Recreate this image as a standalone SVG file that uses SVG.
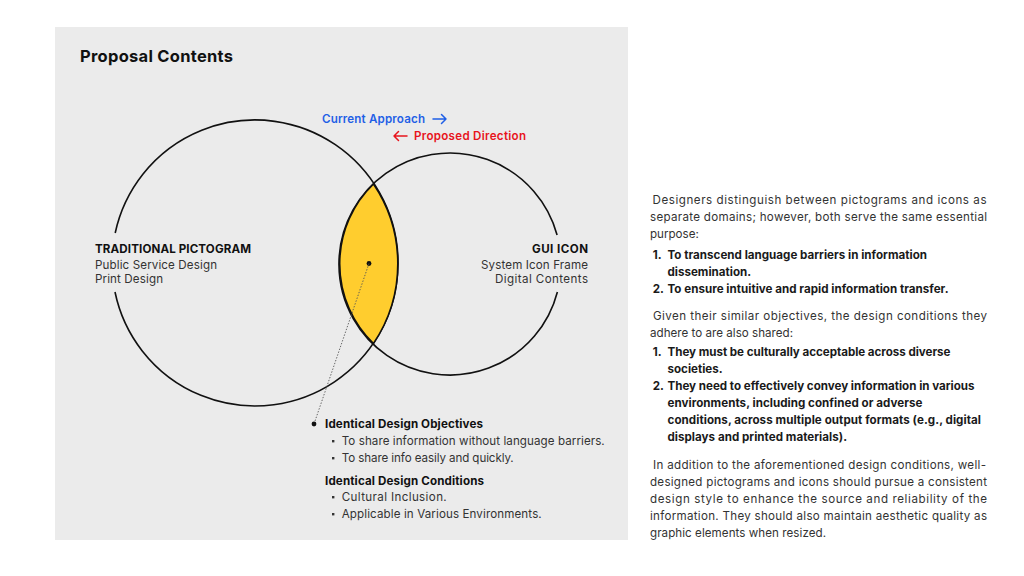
<svg xmlns="http://www.w3.org/2000/svg" width="1024" height="576" viewBox="0 0 1024 576">
<style>
  text { font-family: Inter, "Noto Sans", "Liberation Sans", sans-serif; font-size: 11.6px; }
  .title { font-size: 16.5px; font-weight: 700; fill: #111; }
  .head { font-weight: 700; fill: #111; }
  .reg { fill: #333; }
  .bold { font-weight: 700; fill: #1a1a1a; }
  .ring { fill: none; stroke: #111; stroke-width: 1.6; }
  .blue { fill: #1f5fe6; font-weight: 600; }
  .red { fill: #e8141c; font-weight: 600; }
  .arr { fill: none; stroke-width: 1.5; stroke-linecap: round; stroke-linejoin: round; }
  .dotline { fill: none; stroke: #555; stroke-width: 0.9; stroke-dasharray: 1.4 1.6; }
</style>
<rect x="0" y="0" width="1024" height="576" fill="#ffffff"/>
<rect x="55" y="27" width="573" height="513" fill="#ebebeb"/>
<text class="title" x="80" y="62" textLength="153" lengthAdjust="spacing">Proposal Contents</text>

<g id="legend">
  <text class="blue" x="322" y="123" textLength="103" lengthAdjust="spacing">Current Approach</text>
  <path class="arr" stroke="#1f5fe6" d="M433,119 H446 M441.5,114.5 L446,119 L441.5,123.5"/>
  <text class="red" x="414" y="140" textLength="112" lengthAdjust="spacing">Proposed Direction</text>
  <path class="arr" stroke="#e8141c" d="M394,136 H407 M398.5,131.5 L394,136 L398.5,140.5"/>
</g>

<g id="node-traditional-pictogram">
  <path class="ring" d="M115.2,233 A143,143 0 1 1 115,292"/>
  <text class="head" x="95" y="253" textLength="156" lengthAdjust="spacing">TRADITIONAL PICTOGRAM</text>
  <text class="reg" x="95" y="268.5" textLength="122" lengthAdjust="spacing">Public Service Design</text>
  <text class="reg" x="95" y="283" textLength="68" lengthAdjust="spacing">Print Design</text>
</g>

<g id="node-gui-icon">
  <path class="ring" d="M557.4,292 A111,111 0 1 1 557.1,235"/>
  <text class="head" x="532" y="253" textLength="56" lengthAdjust="spacing">GUI ICON</text>
  <text class="reg" x="481" y="268.5" textLength="107" lengthAdjust="spacing">System Icon Frame</text>
  <text class="reg" x="495" y="283" textLength="93" lengthAdjust="spacing">Digital Contents</text>
</g>

<g id="node-overlap">
  <path d="M373.5,184 A143,143 0 0 1 373.5,343.5 A111,111 0 0 1 373.5,184 Z" fill="#ffcd2e" stroke="#111" stroke-width="1.6"/>
  <circle cx="369" cy="263.5" r="2.4" fill="#111"/>
</g>

<g id="connectors">
  <path class="dotline" d="M369,263.5 L314,424"/>
</g>

<g id="node-identical">
  <circle cx="314" cy="424" r="2.4" fill="#111"/>
  <text class="head" x="325" y="428" textLength="158" lengthAdjust="spacing">Identical Design Objectives</text>
  <rect x="332" y="440" width="2.4" height="2.4" fill="#333"/>
  <text class="reg" x="341.7" y="445" textLength="263" lengthAdjust="spacing">To share information without language barriers.</text>
  <rect x="332" y="457" width="2.4" height="2.4" fill="#333"/>
  <text class="reg" x="341.7" y="462" textLength="172" lengthAdjust="spacing">To share info easily and quickly.</text>
  <text class="head" x="325" y="484.5" textLength="159" lengthAdjust="spacing">Identical Design Conditions</text>
  <rect x="332" y="496" width="2.4" height="2.4" fill="#333"/>
  <text class="reg" x="341.7" y="501" textLength="105" lengthAdjust="spacing">Cultural Inclusion.</text>
  <rect x="332" y="513" width="2.4" height="2.4" fill="#333"/>
  <text class="reg" x="341.7" y="517.5" textLength="200" lengthAdjust="spacing">Applicable in Various Environments.</text>
</g>

<g id="description">
  <text class="reg" x="652.5" y="204" textLength="334" lengthAdjust="spacing">Designers distinguish between pictograms and icons as</text>
  <text class="reg" x="650" y="221" textLength="337" lengthAdjust="spacing">separate domains; however, both serve the same essential</text>
  <text class="reg" x="650" y="238">purpose:</text>
  <text class="bold" y="259"><tspan x="652.7">1.</tspan><tspan x="667.5" textLength="259.5" lengthAdjust="spacing">To transcend language barriers in information</tspan></text>
  <text class="bold" x="667.5" y="276">dissemination.</text>
  <text class="bold" y="293"><tspan x="652.7">2.</tspan><tspan x="667.5" textLength="281" lengthAdjust="spacing">To ensure intuitive and rapid information transfer.</tspan></text>

  <text class="reg" x="653" y="320" textLength="334" lengthAdjust="spacing">Given their similar objectives, the design conditions they</text>
  <text class="reg" x="650" y="337" textLength="143" lengthAdjust="spacing">adhere to are also shared:</text>
  <text class="bold" y="356"><tspan x="652.7">1.</tspan><tspan x="667.5" textLength="283" lengthAdjust="spacing">They must be culturally acceptable across diverse</tspan></text>
  <text class="bold" x="667.5" y="373">societies.</text>
  <text class="bold" y="390"><tspan x="652.7">2.</tspan><tspan x="667.5" textLength="307" lengthAdjust="spacing">They need to effectively convey information in various</tspan></text>
  <text class="bold" x="667.5" y="407" textLength="255" lengthAdjust="spacing">environments, including confined or adverse</text>
  <text class="bold" x="667.5" y="424" textLength="313.5" lengthAdjust="spacing">conditions, across multiple output formats (e.g., digital</text>
  <text class="bold" x="667.5" y="441" textLength="179.5" lengthAdjust="spacing">displays and printed materials).</text>

  <text class="reg" x="653" y="469" textLength="333" lengthAdjust="spacing">In addition to the aforementioned design conditions, well-</text>
  <text class="reg" x="650" y="486" textLength="337" lengthAdjust="spacing">designed pictograms and icons should pursue a consistent</text>
  <text class="reg" x="650" y="503" textLength="337" lengthAdjust="spacing">design style to enhance the source and reliability of the</text>
  <text class="reg" x="650" y="520" textLength="337" lengthAdjust="spacing">information. They should also maintain aesthetic quality as</text>
  <text class="reg" x="650" y="537" textLength="176" lengthAdjust="spacing">graphic elements when resized.</text>
</g>
</svg>
